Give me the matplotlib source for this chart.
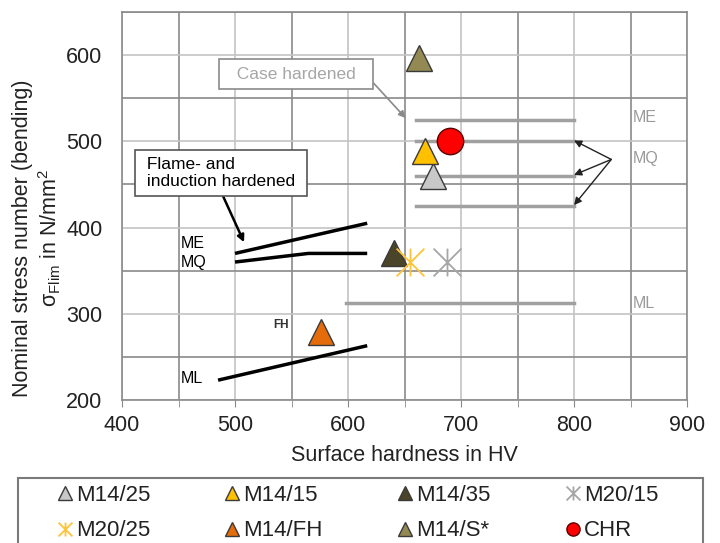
import matplotlib
matplotlib.use("Agg")
import matplotlib.pyplot as plt
from matplotlib.path import Path
from matplotlib.patches import Rectangle
from matplotlib.ticker import MultipleLocator

plt.rcParams["font.family"] = ["Liberation Sans", "DejaVu Sans"]
plt.rcParams["mathtext.fontset"] = "custom"
plt.rcParams["mathtext.rm"] = "Liberation Sans"
plt.rcParams["mathtext.it"] = "Liberation Sans:italic"

# ========================================================
# DATA

# flame- and induction hardened (black lines)
FI_ME_X = [500, 617]
FI_ME_Y = [370, 405]
FI_MQ_X = [500, 565, 617]
FI_MQ_Y = [360, 370, 370]
FI_ML_X = [485, 617]
FI_ML_Y = [223, 263]

# case hardened (grey lines)
CH_X = [660, 800]
CH_ME_Y = 525
CH_MQ_Y = [500, 460, 425]
CH_ML_X = [598, 800]
CH_ML_Y = 312

# test results: (x, y)
M14_25 = (675, 460)
M14_15 = (668, 489)
M14_35 = (641, 371)
M20_15 = (688, 360)
M20_25 = (655, 360)
M14_FH = (576, 279)
M14_S = (663, 597)
CHR = (690, 500)

# ========================================================
# STYLE

GRID_MAJOR = "#c4c4c4"
GRID_MINOR = "#8a8a8a"
LINE_GREY = "#a0a0a0"
TXT = "#222222"

STAR = Path(
    [(-1, -1), (1, 1), (-1, 1), (1, -1), (0, -1), (0, 1)],
    [Path.MOVETO, Path.LINETO] * 3,
)

fig = plt.figure(figsize=(7.2, 5.43), dpi=100)
ax = fig.add_axes([122 / 720, 1 - 400 / 543, (687 - 122) / 720, (400 - 12) / 543])

ax.set_xlim(400, 900)
ax.set_ylim(200, 650)
ax.xaxis.set_major_locator(MultipleLocator(100))
ax.xaxis.set_minor_locator(MultipleLocator(50))
ax.yaxis.set_major_locator(MultipleLocator(100))
ax.yaxis.set_minor_locator(MultipleLocator(50))
ax.grid(True, which="major", color=GRID_MAJOR, lw=1.2)
ax.grid(True, which="minor", color=GRID_MINOR, lw=1.2)
ax.set_axisbelow(True)
for s in ax.spines.values():
    s.set_color(GRID_MINOR)
    s.set_linewidth(1.2)
ax.tick_params(axis="x", which="both", direction="out", length=5, color=GRID_MINOR,
               labelsize=15.5, labelcolor=TXT, pad=6)
ax.tick_params(axis="y", which="both", length=0, labelsize=15.5, labelcolor=TXT, pad=14)

# flame- and induction hardened lines
for xs, ys in [(FI_ME_X, FI_ME_Y), (FI_MQ_X, FI_MQ_Y), (FI_ML_X, FI_ML_Y)]:
    ax.plot(xs, ys, color="black", lw=2.5, solid_capstyle="butt", zorder=3)

# case hardened lines
ax.plot(CH_X, [CH_ME_Y] * 2, color=LINE_GREY, lw=2.5, zorder=3)
for y in CH_MQ_Y:
    ax.plot(CH_X, [y, y], color=LINE_GREY, lw=2.5, zorder=3)
ax.plot(CH_ML_X, [CH_ML_Y] * 2, color=LINE_GREY, lw=2.5, zorder=3)

# arrows to the MQ lines
for y in CH_MQ_Y:
    ax.annotate("", xy=(CH_X[1], y + 1), xytext=(833, 479),
                arrowprops=dict(arrowstyle="-|>", color="#222222", lw=1.0,
                                mutation_scale=11, shrinkA=0, shrinkB=0), zorder=4)

# labels
for txt, y in [("ME", 528), ("MQ", 480), ("ML", 312)]:
    ax.text(852, y, txt, color="#9a9a9a", fontsize=11.5, va="center", ha="left")
for txt, y in [("ME", 382), ("MQ", 359), ("ML", 225)]:
    ax.text(452, y, txt, color="black", fontsize=11.5, va="center", ha="left")
ax.text(541, 287, "FH", color="#333333", fontsize=8.5, va="center", ha="center",
        fontweight="bold")

# callouts
ax.annotate("  Case hardened  ", xy=(651, 527), xytext=(554, 578), fontsize=12.5,
            color="#a6a6a6", ha="center", va="center",
            bbox=dict(boxstyle="square,pad=0.45", fc="white", ec="#8a8a8a", lw=1.2),
            arrowprops=dict(arrowstyle="-|>", color="#8a8a8a", lw=1.2,
                            mutation_scale=10, shrinkA=0, shrinkB=0,
                            relpos=(1.0, 0.5)), zorder=5)
ax.annotate(" Flame- and\n induction hardened ", xy=(508, 383), xytext=(488, 463),
            fontsize=12.5, color="black", ha="center", va="center",
            multialignment="left", linespacing=1.15,
            bbox=dict(boxstyle="square,pad=0.4", fc="white", ec="#555555", lw=1.2),
            arrowprops=dict(arrowstyle="-|>", color="black", lw=1.8,
                            mutation_scale=10, shrinkA=0, shrinkB=0,
                            relpos=(0.49, 0.0)), zorder=5)

# test points
TRI = dict(marker="^", markersize=19, markeredgecolor="#3a3a3a", markeredgewidth=1.0,
           linestyle="none")
h_m14_25, = ax.plot(*M14_25, color="#c8c8c8", zorder=6, **TRI)
h_m14_15, = ax.plot(*M14_15, color="#ffc000", zorder=7, **TRI)
h_m14_35, = ax.plot(*M14_35, color="#4a4529", zorder=6, **TRI)
h_m14_fh, = ax.plot(*M14_FH, color="#e46c0a", zorder=6, **TRI)
h_m14_s, = ax.plot(*M14_S, color="#938953", zorder=6, **TRI)
h_m20_25, = ax.plot(*M20_25, marker=STAR, markersize=20, markeredgecolor="#ffc33a",
                    markeredgewidth=1.3, linestyle="none", zorder=7)
h_m20_15, = ax.plot(*M20_15, marker=STAR, markersize=20, markeredgecolor="#a6a6a6",
                    markeredgewidth=1.3, linestyle="none", zorder=7)
h_chr, = ax.plot(*CHR, marker="o", markersize=19, color="#ff0000",
                 markeredgecolor="#5a0000", markeredgewidth=1.0, linestyle="none", zorder=7)

ax.set_xlabel("Surface hardness in HV", fontsize=15.5, color=TXT, labelpad=6)
fig.text(23 / 720, 1 - 238 / 543, "Nominal stress number (bending)", rotation=90,
         ha="center", va="center", fontsize=15.5, color=TXT)
fig.text(50 / 720, 1 - 238 / 543, r"σ$_{\mathrm{Flim}}$ in N/mm$^2$", rotation=90,
         ha="center", va="center", fontsize=15.5, color=TXT)

# legend frame (runs off the bottom of the figure)
fig.patches.append(Rectangle((18 / 720, -0.05), (703 - 18) / 720, (543 - 478) / 543 + 0.05,
                             transform=fig.transFigure, fill=False, ec="#7a7a7a", lw=1.5))

# legend (column-major order)
handles = [h_m14_25, h_m20_25, h_m14_15, h_m14_fh, h_m14_35, h_m14_s, h_m20_15, h_chr]
labels = ["M14/25", "M20/25", "M14/15", "M14/FH", "M14/35", "M14/S*", "M20/15", "CHR"]
leg = fig.legend(handles, labels, ncol=4, loc="upper left",
                 bbox_to_anchor=(57 / 720, 1 - 485 / 543),
                 fontsize=16, markerscale=0.5, handlelength=0.7,
                 handletextpad=0.15, borderpad=0, labelspacing=0.65,
                 columnspacing=3.35, frameon=False, borderaxespad=0)
for t in leg.get_texts():
    t.set_color(TXT)

plt.savefig("out.png", dpi=100)
